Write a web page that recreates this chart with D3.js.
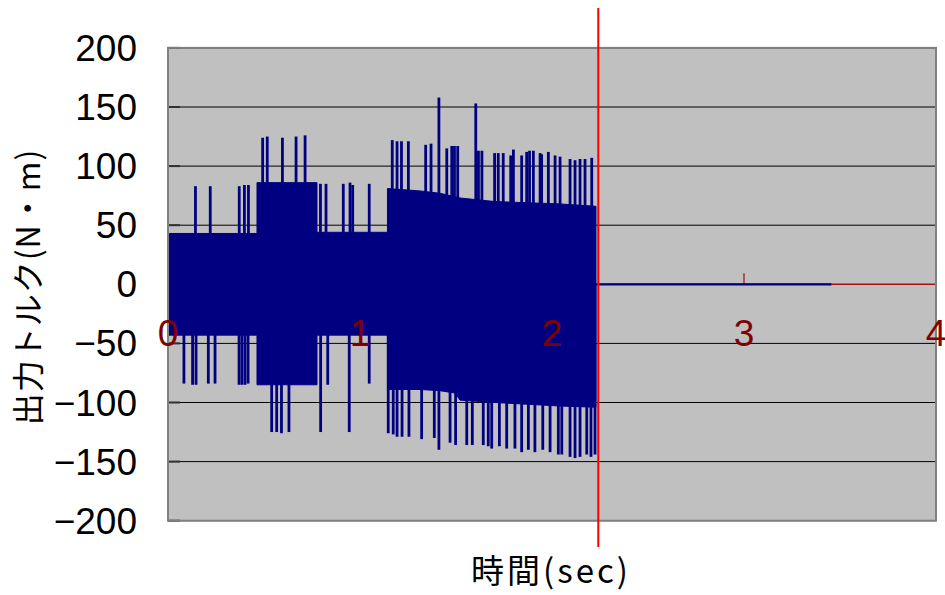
<!DOCTYPE html>
<html>
<head>
<meta charset="utf-8">
<script src="https://cdn.jsdelivr.net/npm/d3@7"></script>
<style>
  body { margin: 0; background: #fff; }
  text { font-family: "Liberation Sans Narrow", "Arial Narrow", "Liberation Sans", sans-serif; }
  .jp { font-family: "Noto Sans CJK JP", "Noto Sans", sans-serif; }
</style>
</head>
<body>
<svg id="chart" width="945" height="595"></svg>
<script>
// Axis ticks
const yTicks = [-200, -150, -100, -50, 0, 50, 100, 150, 200];
const xTicks = [0, 1, 2, 3, 4];

// Envelope of the fast-oscillating output torque (N·m) over time (s);
// repeated times mark abrupt changes of the oscillation amplitude
const bandT  = [0,   0.4635, 0.4635, 0.776, 0.776, 1.143, 1.143, 1.3125, 1.4167, 1.4948, 1.521, 1.703, 2.0417, 2.229];
const bandHi = [43,  43,     86,     86,    44,    44,    81,    79,     77,     74,     73,    70,    68,     66];
const bandLo = [-43, -43,    -85,    -85,   -43,   -43,   -89,   -89,    -90,    -92,    -98,   -100,  -103,   -104];

// Individual torque peaks that stick out of the envelope
const peakT = [
  0.143, 0.220, 0.371, 0.398, 0.419, 0.493, 0.517, 0.596, 0.635, 0.667, 0.714, 0.794, 0.823, 0.913, 0.948, 0.962, 1.048,
  0.083, 0.128, 0.146, 0.210, 0.245, 0.370, 0.385, 0.401, 0.417, 0.540, 0.566, 0.591, 0.630, 0.795, 0.832, 0.944, 1.048,
  1.168, 1.193, 1.216, 1.252, 1.342, 1.370, 1.411, 1.452, 1.478, 1.492, 1.509, 1.603, 1.617, 1.635, 1.701, 1.720, 1.746,
  1.785, 1.799, 1.842, 1.868, 1.883, 1.903, 1.938, 1.946, 1.981, 2.016, 2.042, 2.094, 2.120, 2.146, 2.172, 2.207,
  1.147, 1.173, 1.193, 1.219, 1.255, 1.321, 1.387, 1.411, 1.469, 1.498, 1.556, 1.585, 1.642, 1.668, 1.686, 1.726, 1.764,
  1.807, 1.842, 1.877, 1.911, 1.952, 1.990, 2.033, 2.051, 2.094, 2.120, 2.146, 2.181, 2.203, 2.224
];
const peakV = [
  83, 83, 83, 84, 84, 124, 125, 124, 85, 125, 126, 85, 85, 85, 86, 84, 85,
  -84, -85, -85, -84, -84, -85, -85, -85, -84, -125, -125, -126, -125, -125, -85, -125, -84,
  122, 121, 121, 121, 118, 119, 158, 115, 117, 117, 117, 153, 113, 113, 111, 111, 111,
  109, 114, 109, 112, 113, 113, 111, 110, 112, 109, 108, 106, 105, 106, 106, 107,
  -126, -127, -129, -129, -129, -131, -130, -140, -134, -136, -136, -136, -136, -137, -139, -137, -139,
  -139, -142, -140, -142, -140, -142, -144, -144, -146, -147, -146, -144, -146, -144
];

// Torque after the motor stops
const tailT = [2.229, 3.455];
const tailV = [0, 0];

// Time marker
const markerT = [2.241];

const svg = d3.select("#chart");
const plot = { left: 168, right: 936, top: 47.9, bottom: 520.7 };

const x = d3.scaleLinear().domain([0, 4]).range([plot.left, plot.right]);
const y = d3.scaleLinear().domain([-200, 200]).range([plot.bottom, plot.top]);

const navy = "#000080";

// plot background
svg.append("rect")
  .attr("x", plot.left).attr("y", plot.top)
  .attr("width", plot.right - plot.left).attr("height", plot.bottom - plot.top)
  .attr("fill", "#c0c0c0");

// horizontal gridlines
svg.append("g").selectAll("line").data(yTicks).join("line")
  .attr("x1", plot.left).attr("x2", plot.right)
  .attr("y1", d => y(d)).attr("y2", d => y(d))
  .attr("stroke", "#000").attr("stroke-width", 1);

// inward major ticks on the value axis
svg.append("g").selectAll("line").data(yTicks).join("line")
  .attr("x1", plot.left).attr("x2", plot.left + 12)
  .attr("y1", d => y(d)).attr("y2", d => y(d))
  .attr("stroke", "#303030").attr("stroke-width", 2);

// time axis crossing at zero
const xAxisG = svg.append("g");
xAxisG.append("line")
  .attr("x1", plot.left).attr("x2", plot.right)
  .attr("y1", y(0)).attr("y2", y(0))
  .attr("stroke", "#a01010").attr("stroke-width", 1.2);
xAxisG.selectAll(".tk").data(xTicks).join("line").attr("class", "tk")
  .attr("x1", d => x(d)).attr("x2", d => x(d))
  .attr("y1", y(0)).attr("y2", y(0) - 11)
  .attr("stroke", "#a01010").attr("stroke-width", 1.2);

// signal envelope
const bandData = bandT.map((t, i) => ({ t, hi: bandHi[i], lo: bandLo[i] }));
svg.append("path")
  .datum(bandData)
  .attr("fill", navy)
  .attr("stroke", navy).attr("stroke-width", 1)
  .attr("d", d3.area()
    .x(d => x(d.t)).y0(d => y(d.lo)).y1(d => y(d.hi)));

// peaks
svg.append("g").selectAll("line").data(peakT.map((t, i) => ({ t, v: peakV[i] }))).join("line")
  .attr("x1", d => x(d.t)).attr("x2", d => x(d.t))
  .attr("y1", y(0)).attr("y2", d => y(d.v))
  .attr("stroke", navy).attr("stroke-width", 2.8);

// tail
svg.append("path")
  .datum(tailT.map((t, i) => ({ t, v: tailV[i] })))
  .attr("fill", "none").attr("stroke", navy).attr("stroke-width", 2.2)
  .attr("d", d3.line().x(d => x(d.t)).y(d => y(d.v)));

// plot border
svg.append("rect")
  .attr("x", plot.left).attr("y", plot.top)
  .attr("width", plot.right - plot.left).attr("height", plot.bottom - plot.top)
  .attr("fill", "none").attr("stroke", "#808080").attr("stroke-width", 2);

// y tick labels
svg.append("g").selectAll("text").data(yTicks).join("text")
  .attr("x", 137).attr("y", d => y(d) + 13)
  .attr("text-anchor", "end")
  .attr("font-size", 37).attr("fill", "#000")
  .text(d => d < 0 ? "\u2212" + Math.abs(d) : String(d));

// x tick labels
svg.append("g").selectAll("text").data(xTicks).join("text")
  .attr("x", d => x(d)).attr("y", y(0) + 62)
  .attr("text-anchor", "middle")
  .attr("font-size", 37).attr("fill", "#800000")
  .text(d => String(d));

// time marker
svg.append("g").selectAll("line").data(markerT).join("line")
  .attr("x1", d => x(d)).attr("x2", d => x(d))
  .attr("y1", 8).attr("y2", 547)
  .attr("stroke", "#ff0000").attr("stroke-width", 2);

// axis titles
svg.append("text").attr("class", "jp")
  .attr("transform", `translate(40, 287) rotate(-90)`)
  .attr("text-anchor", "middle")
  .attr("font-size", 32).attr("letter-spacing", 1).attr("fill", "#000")
  .text("出力トルク(N・m)");

svg.append("text").attr("class", "jp")
  .attr("x", 551).attr("y", 583)
  .attr("text-anchor", "middle")
  .attr("font-size", 33).attr("letter-spacing", 3).attr("fill", "#000")
  .text("時間(sec)");
</script>
</body>
</html>
